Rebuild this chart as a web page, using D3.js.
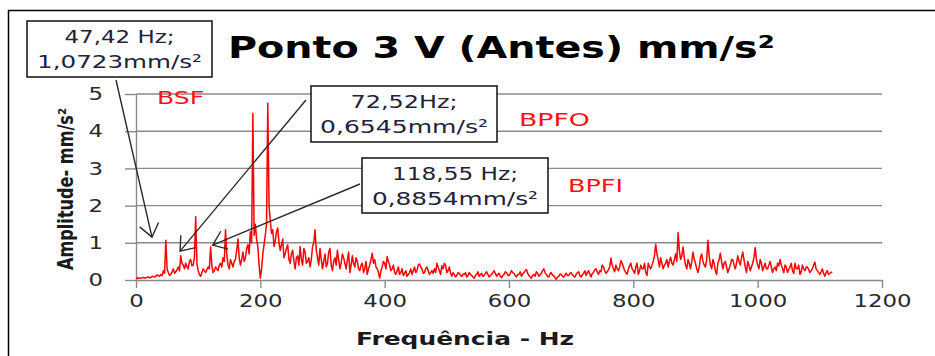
<!DOCTYPE html>
<html>
<head>
<meta charset="utf-8">
<script src="https://cdn.jsdelivr.net/npm/d3@7"></script>
<style>
    body { margin: 0; background: #fff; }
    text { font-family: "DejaVu Sans", sans-serif; }
</style>
</head>
<body>
<svg id="canvas" width="935" height="356"></svg>
<script>
// spectrum bins, 2 Hz apart, 0 .. 1120 Hz (one row = 40 Hz)
let freqStep = 2;
let amplitudes = [
    0.05, 0.04, 0.06, 0.05, 0.05, 0.06, 0.07, 0.05, 0.06, 0.07, 0.08, 0.06, 0.07, 0.10, 0.09, 0.08, 0.10, 0.14, 0.12, 0.10,
    0.15, 0.12, 0.25, 0.18, 1.07, 0.30, 0.20, 0.12, 0.15, 0.22, 0.30, 0.18, 0.22, 0.28, 0.35, 0.25, 0.65, 0.45, 0.40, 0.30,
    0.45, 0.35, 0.30, 0.50, 0.55, 0.38, 0.40, 0.60, 1.70, 0.45, 0.25, 0.15, 0.10, 0.20, 0.30, 0.25, 0.20, 0.28, 0.35, 0.30,
    0.885, 0.40, 0.20, 0.25, 0.35, 0.30, 0.25, 0.40, 0.45, 0.35, 0.60, 0.50, 1.35, 0.70, 0.40, 0.30, 0.55, 0.45, 0.35, 0.50,
    0.55, 0.80, 1.10, 0.60, 0.40, 0.55, 0.75, 0.50, 0.60, 0.85, 0.95, 0.70, 1.30, 1.00, 4.48, 1.20, 1.50, 1.10, 0.90, 0.40,
    0.05, 0.30, 0.70, 0.95, 1.20, 1.50, 4.75, 2.00, 1.60, 1.25, 1.35, 0.90, 1.05, 1.30, 1.40, 1.00, 0.80, 0.95, 1.10, 0.60,
    0.70, 0.85, 0.95, 0.55, 0.45, 0.70, 0.80, 0.50, 0.30, 0.60, 0.65, 0.40, 0.90, 0.55, 0.40, 0.85, 0.75, 0.45, 0.50, 0.60,
    0.35, 0.55, 0.90, 1.00, 1.35, 0.80, 0.60, 0.40, 0.85, 0.55, 0.30, 0.50, 0.70, 0.35, 0.45, 0.75, 0.85, 0.40, 0.25, 0.50,
    0.60, 0.40, 0.80, 0.55, 0.30, 0.45, 0.70, 0.60, 0.45, 0.30, 0.55, 0.75, 0.20, 0.40, 0.65, 0.45, 0.35, 0.60, 0.50, 0.30,
    0.25, 0.40, 0.45, 0.20, 0.30, 0.50, 0.15, 0.30, 0.40, 0.55, 0.72, 0.45, 0.55, 0.35, 0.30, 0.20, 0.05, 0.25, 0.35, 0.50,
    0.45, 0.30, 0.63, 0.50, 0.40, 0.25, 0.30, 0.40, 0.20, 0.15, 0.25, 0.35, 0.15, 0.20, 0.30, 0.12, 0.18, 0.25, 0.10, 0.15,
    0.20, 0.30, 0.15, 0.25, 0.35, 0.20, 0.25, 0.40, 0.43, 0.35, 0.30, 0.18, 0.20, 0.30, 0.35, 0.25, 0.15, 0.20, 0.25, 0.18,
    0.30, 0.20, 0.45, 0.35, 0.25, 0.15, 0.38, 0.30, 0.45, 0.40, 0.20, 0.25, 0.35, 0.18, 0.10, 0.20, 0.15, 0.08, 0.12, 0.20,
    0.18, 0.12, 0.10, 0.16, 0.15, 0.20, 0.08, 0.12, 0.20, 0.15, 0.12, 0.08, 0.05, 0.12, 0.15, 0.22, 0.10, 0.14, 0.18, 0.10,
    0.12, 0.18, 0.22, 0.15, 0.08, 0.12, 0.15, 0.20, 0.25, 0.18, 0.10, 0.15, 0.18, 0.10, 0.06, 0.12, 0.15, 0.22, 0.20, 0.14,
    0.12, 0.18, 0.25, 0.20, 0.18, 0.12, 0.08, 0.15, 0.15, 0.22, 0.10, 0.16, 0.20, 0.25, 0.28, 0.18, 0.12, 0.08, 0.05, 0.12,
    0.15, 0.10, 0.22, 0.18, 0.10, 0.14, 0.18, 0.25, 0.30, 0.20, 0.15, 0.10, 0.08, 0.16, 0.20, 0.12, 0.12, 0.06, 0.02, 0.08,
    0.10, 0.16, 0.15, 0.10, 0.08, 0.14, 0.18, 0.12, 0.12, 0.18, 0.20, 0.14, 0.10, 0.08, 0.15, 0.20, 0.22, 0.12, 0.08, 0.14,
    0.18, 0.25, 0.12, 0.20, 0.25, 0.15, 0.08, 0.18, 0.20, 0.28, 0.30, 0.22, 0.15, 0.25, 0.22, 0.40, 0.35, 0.25, 0.18, 0.22,
    0.28, 0.35, 0.59, 0.40, 0.30, 0.22, 0.40, 0.30, 0.25, 0.35, 0.52, 0.45, 0.35, 0.25, 0.20, 0.15, 0.30, 0.38, 0.45, 0.30,
    0.25, 0.18, 0.35, 0.45, 0.15, 0.25, 0.40, 0.30, 0.30, 0.45, 0.20, 0.12, 0.45, 0.35, 0.30, 0.40, 0.50, 0.65, 0.96, 0.70,
    0.55, 0.35, 0.60, 0.45, 0.30, 0.40, 0.45, 0.55, 0.35, 0.50, 0.61, 0.45, 0.40, 0.55, 0.70, 0.50, 1.27, 0.80, 0.55, 0.65,
    0.89, 0.60, 0.40, 0.30, 0.55, 0.45, 0.30, 0.50, 0.75, 0.55, 0.45, 0.30, 0.20, 0.35, 0.60, 0.70, 0.50, 0.40, 0.35, 0.55,
    1.07, 0.65, 0.40, 0.30, 0.55, 0.45, 0.25, 0.15, 0.45, 0.55, 0.72, 0.50, 0.30, 0.45, 0.50, 0.35, 0.20, 0.30, 0.40, 0.55,
    0.55, 0.40, 0.30, 0.45, 0.65, 0.50, 0.40, 0.60, 0.75, 0.55, 0.35, 0.20, 0.50, 0.40, 0.25, 0.35, 0.45, 0.60, 0.87, 0.55,
    0.40, 0.30, 0.55, 0.45, 0.25, 0.35, 0.45, 0.30, 0.30, 0.40, 0.50, 0.35, 0.20, 0.30, 0.35, 0.25, 0.45, 0.38, 0.55, 0.40,
    0.30, 0.20, 0.40, 0.35, 0.20, 0.28, 0.35, 0.45, 0.25, 0.18, 0.45, 0.30, 0.30, 0.40, 0.15, 0.22, 0.40, 0.30, 0.25, 0.35,
    0.35, 0.28, 0.20, 0.25, 0.30, 0.40, 0.48, 0.30, 0.25, 0.20, 0.15, 0.22, 0.30, 0.18, 0.10, 0.20, 0.25, 0.15, 0.18, 0.20,
    0.22
];

let xTicks = [0, 200, 400, 600, 800, 1000, 1200];
let yTicks = [0, 1, 2, 3, 4, 5];

let chartTitle = 'Ponto 3 V (Antes) mm/s²';
let xTitle = 'Frequência - Hz';
let yTitle = 'Amplitude- mm/s²';

let bandNames = ['BSF', 'BPFO', 'BPFI'];

let peakHz = [47.42, 72.52, 118.55];
let peakAmp = [1.0723, 0.6545, 0.8854];
let peakText = [
    ['47,42 Hz;', '1,0723mm/s²'],
    ['72,52Hz;', '0,6545mm/s²'],
    ['118,55 Hz;', '0,8854mm/s²']
];

let canvas = d3.select('#canvas');
let stretch = 1.27; // the original picture is wider than tall

let x = d3.scaleLinear().domain([0, 1200]).range([136, 882]);
let y = d3.scaleLinear().domain([0, 5]).range([280, 94]);

let drawFrame = () => {
    canvas.append('rect')
        .attr('x', 8.5).attr('y', 10.5)
        .attr('width', 940).attr('height', 360)
        .attr('fill', 'none')
        .attr('stroke', '#000')
        .attr('stroke-width', 1.5);

    canvas.append('text')
        .text(chartTitle)
        .attr('x', 228).attr('y', 58)
        .attr('textLength', 547)
        .attr('lengthAdjust', 'spacingAndGlyphs')
        .style('font-size', '31px')
        .style('font-weight', 'bold')
        .style('fill', '#000');
};

let drawAxes = () => {
    // gridlines
    canvas.append('g')
        .selectAll('line')
        .data(yTicks.filter(t => t > 0))
        .enter()
        .append('line')
        .attr('x1', x(0)).attr('x2', x(1200))
        .attr('y1', d => y(d)).attr('y2', d => y(d))
        .attr('stroke', '#8a8a8a')
        .attr('stroke-width', 1.4);

    let xAxis = d3.axisBottom(x).tickValues(xTicks).tickFormat(d3.format('d'))
        .tickSize(8).tickSizeOuter(0).tickPadding(6);
    let gx = canvas.append('g')
        .attr('transform', 'translate(0,' + y(0) + ')')
        .call(xAxis);

    let yAxis = d3.axisLeft(y).tickValues(yTicks).tickFormat(d3.format('d'))
        .tickSize(11).tickSizeOuter(0);
    let gy = canvas.append('g')
        .attr('transform', 'translate(' + x(0) + ',0)')
        .call(yAxis);

    [gx, gy].forEach(g => {
        g.select('.domain').attr('stroke', '#8a8a8a').attr('stroke-width', 1.4);
        g.selectAll('.tick line').attr('stroke', '#8a8a8a').attr('stroke-width', 1.4);
        g.selectAll('.tick text')
            .style('font-size', '18px')
            .style('font-family', '"DejaVu Sans", sans-serif')
            .attr('fill', '#2a2a2a');
    });

    gx.selectAll('.tick text').attr('transform', 'scale(' + stretch + ',1)');
    gy.selectAll('.tick text')
        .attr('x', 0)
        .attr('transform', 'translate(-33,0) scale(' + stretch + ',1)');

    canvas.append('text')
        .text(xTitle)
        .attr('x', 465).attr('y', 345)
        .attr('text-anchor', 'middle')
        .attr('textLength', 218)
        .attr('lengthAdjust', 'spacingAndGlyphs')
        .style('font-size', '18px')
        .style('font-weight', 'bold')
        .style('fill', '#1a1a1a');

    canvas.append('text')
        .text(yTitle)
        .attr('transform', 'translate(73,189) rotate(-90) scale(1,' + stretch + ')')
        .attr('text-anchor', 'middle')
        .attr('textLength', 162)
        .attr('lengthAdjust', 'spacingAndGlyphs')
        .style('font-size', '16px')
        .style('font-weight', 'bold')
        .style('fill', '#1a1a1a');
};

let drawSpectrum = () => {
    let line = d3.line()
        .x((a, i) => x(i * freqStep))
        .y(a => y(a));

    canvas.append('path')
        .datum(amplitudes)
        .attr('d', line)
        .attr('fill', 'none')
        .attr('stroke', '#ff0000')
        .attr('stroke-width', 1.5)
        .attr('stroke-linejoin', 'round');
};

let drawLabels = () => {
    // band names, placed in data space
    let bandPos = [[34, 4.73, 47], [616, 4.14, 71], [695, 2.37, 55]];
    canvas.append('g')
        .selectAll('text')
        .data(bandNames)
        .enter()
        .append('text')
        .text(d => d)
        .attr('x', (d, i) => x(bandPos[i][0]))
        .attr('y', (d, i) => y(bandPos[i][1]))
        .attr('textLength', (d, i) => bandPos[i][2])
        .attr('lengthAdjust', 'spacingAndGlyphs')
        .style('font-size', '17px')
        .style('fill', '#ff1010');

    // callout boxes: left, top, size, text widths, arrow start, tip offset from the peak
    let boxes = [
        { x: 27, y: 21, w: 185, h: 56, lw: [110, 165], from: [116, 80], off: [-13.5, -3] },
        { x: 311, y: 86, w: 186, h: 56, lw: [107, 168], from: [306, 100], off: [-1, -4.5] },
        { x: 362, y: 158, w: 186, h: 55, lw: [126, 166], from: [360, 184], off: [3, -2] }
    ];

    let notes = canvas.append('g')
        .selectAll('g')
        .data(peakText)
        .enter()
        .append('g');

    notes.append('rect')
        .attr('x', (d, i) => boxes[i].x)
        .attr('y', (d, i) => boxes[i].y)
        .attr('width', (d, i) => boxes[i].w)
        .attr('height', (d, i) => boxes[i].h)
        .attr('fill', '#fff')
        .attr('stroke', '#111')
        .attr('stroke-width', 1.5);

    [0, 1].forEach(k => {
        notes.append('text')
            .text(d => d[k])
            .attr('x', (d, i) => boxes[i].x + boxes[i].w / 2)
            .attr('y', (d, i) => boxes[i].y + 22 + k * 25)
            .attr('text-anchor', 'middle')
            .attr('textLength', (d, i) => boxes[i].lw[k])
            .attr('lengthAdjust', 'spacingAndGlyphs')
            .style('font-size', '18px')
            .style('fill', '#22223a');
    });

    // arrows from each box toward its peak
    notes.each(function (d, i) {
        let b = boxes[i];
        let tx = x(peakHz[i]) + b.off[0];
        let ty = y(peakAmp[i]) + b.off[1];
        let g = d3.select(this);
        g.append('line')
            .attr('x1', b.from[0]).attr('y1', b.from[1])
            .attr('x2', tx).attr('y2', ty)
            .attr('stroke', '#2a2a2a')
            .attr('stroke-width', 1.4);
        let ang = Math.atan2(b.from[1] - ty, b.from[0] - tx);
        let head = [ang - 0.65, ang + 0.65].map(a => [tx + 16 * Math.cos(a), ty + 16 * Math.sin(a)]);
        g.append('path')
            .attr('d', 'M' + head[0] + 'L' + tx + ',' + ty + 'L' + head[1])
            .attr('fill', 'none')
            .attr('stroke', '#2a2a2a')
            .attr('stroke-width', 1.4);
    });
};

drawFrame();
drawAxes();
drawSpectrum();
drawLabels();
</script>
</body>
</html>
